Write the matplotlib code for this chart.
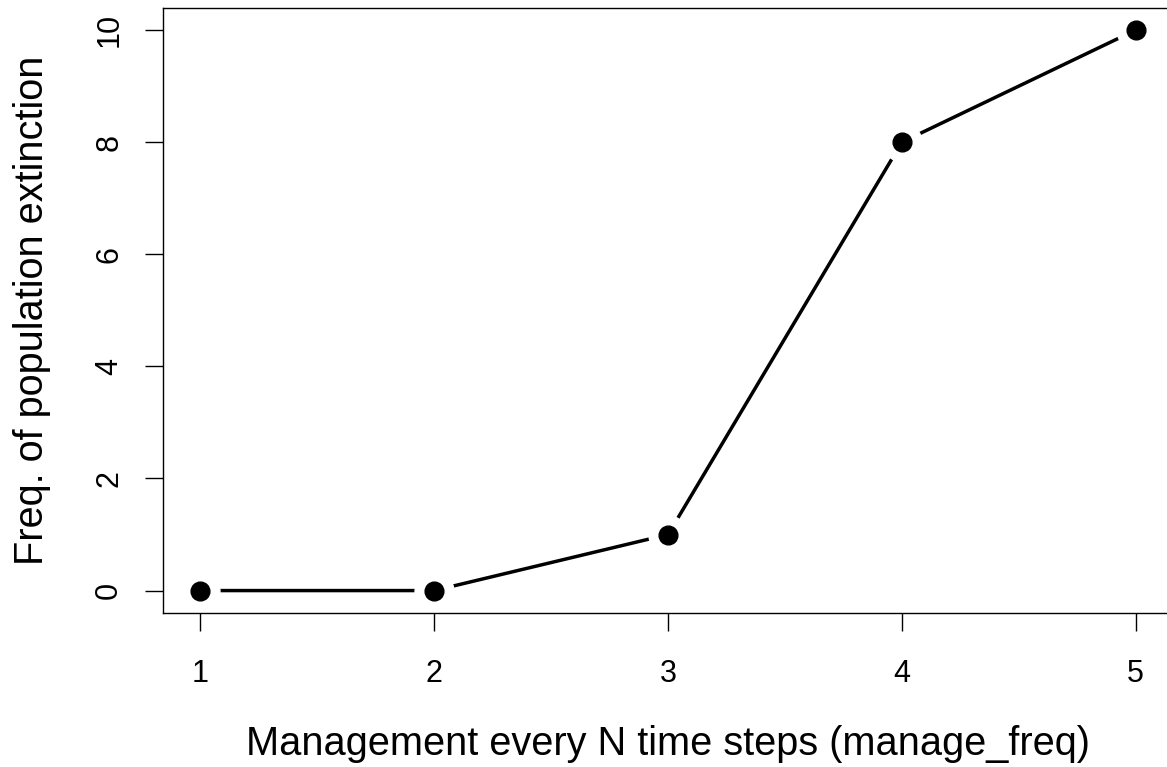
import matplotlib
matplotlib.use("Agg")
import matplotlib.pyplot as plt

# === Data ===
manage_freq = [1, 2, 3, 4, 5]
extinction_freq = [0, 0, 1, 8, 10]
x_ticks = [1, 2, 3, 4, 5]
y_ticks = [0, 2, 4, 6, 8, 10]

plt.rcParams["font.family"] = ["Liberation Sans", "DejaVu Sans"]

fig = plt.figure(figsize=(11.67, 7.67), dpi=100)
ax = fig.add_axes([0.1397, 0.2008, 0.8655, 0.7892])

# line first, then white discs to open gaps (like R type="b")
ax.plot(manage_freq, extinction_freq, color="black", linewidth=2.5,
        solid_capstyle="round", zorder=2)
ax.plot(manage_freq, extinction_freq, linestyle="none", marker="o",
        markersize=28, markerfacecolor="white", markeredgecolor="white",
        zorder=3, clip_on=False)
ax.plot(manage_freq, extinction_freq, linestyle="none", marker="o",
        markersize=13.5, color="black", zorder=4, clip_on=False)

ax.set_xlim(0.84, 5.16)
ax.set_ylim(-0.4, 10.4)
ax.set_xticks(x_ticks)
ax.set_yticks(y_ticks)
ax.set_yticklabels([str(v) for v in y_ticks], rotation=90, va="center")

for s in ax.spines.values():
    s.set_linewidth(1.0)
ax.spines["right"].set_visible(False)

ax.tick_params(axis="both", direction="out", length=13, width=1.0,
               labelsize=22)
ax.tick_params(axis="x", pad=20)
ax.tick_params(axis="y", pad=15)

ax.set_xlabel("Management every N time steps (manage_freq)", fontsize=28.6,
              labelpad=26)
ax.set_ylabel("Freq. of population extinction", fontsize=28.6, labelpad=31)

fig.savefig("out.png", dpi=100)
